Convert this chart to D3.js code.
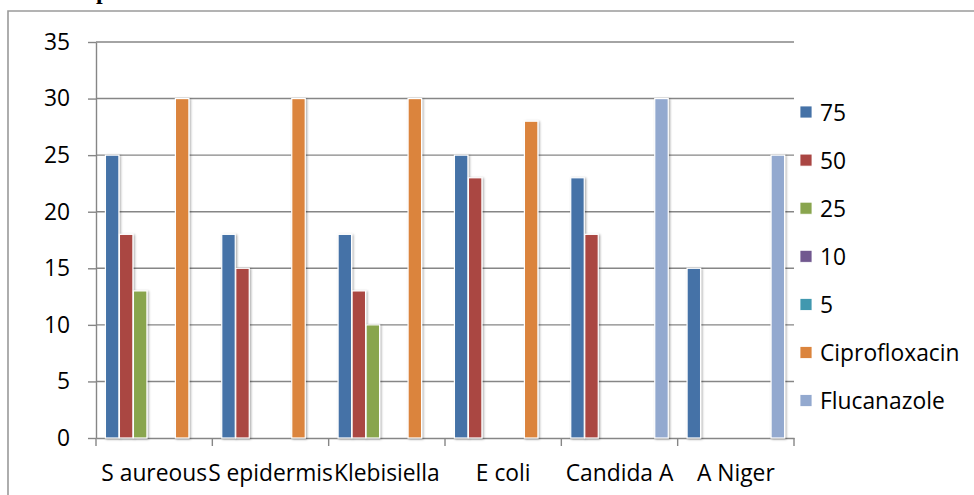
<!DOCTYPE html>
<html>
<head>
<meta charset="utf-8">
<script src="https://cdn.jsdelivr.net/npm/d3@7"></script>
<style>
  html, body { margin: 0; padding: 0; background: #fff; }
  svg { display: block; }
  text { font-family: "Open Sans", Lato, "Liberation Sans", sans-serif; fill: #000; }
</style>
</head>
<body>
<svg id="chart" width="974" height="495"></svg>
<script>
// Zone of inhibition (mm) by organism and concentration / standard drug
const categories = ["S aureous", "S epidermis", "Klebisiella", "E coli", "Candida A", "A Niger"];
const seriesNames = ["75", "50", "25", "10", "5", "Ciprofloxacin", "Flucanazole"];
const values75 = [25, 18, 18, 25, 23, 15];
const values50 = [18, 15, 13, 23, 18, 0];
const values25 = [13, 0, 10, 0, 0, 0];
const values10 = [0, 0, 0, 0, 0, 0];
const values5 = [0, 0, 0, 0, 0, 0];
const valuesCipro = [30, 30, 30, 28, 0, 0];
const valuesFluc = [0, 0, 0, 0, 30, 25];
const yTicks = [0, 5, 10, 15, 20, 25, 30, 35];
const seriesColors = ["#4572A7", "#AA4643", "#89A54E", "#71588F", "#4198AF", "#DB843D", "#93A9CF"];

const seriesValues = [values75, values50, values25, values10, values5, valuesCipro, valuesFluc];

const svg = d3.select("#chart");
const fontSize = 22.8;
const fontFamily = "'Open Sans', Lato, 'Liberation Sans', sans-serif";

// Outer chart frame (left and top edges visible)
svg.append("path")
  .attr("d", "M8,500 L8,11 L980,11")
  .attr("fill", "none")
  .attr("stroke", "#9a9a9a")
  .attr("stroke-width", 1.6);

// Heading above the frame, mostly outside the visible area
svg.append("text")
  .attr("x", 96)
  .attr("y", -1)
  .style("font-family", "'Liberation Serif', serif")
  .style("font-weight", "bold")
  .style("font-size", "24px")
  .text("p");

const plotLeft = 96, plotRight = 794, plotTop = 42, plotBottom = 438;

const y = d3.scaleLinear().domain([0, 35]).range([plotBottom, plotTop]);
const x0 = d3.scaleBand().domain(categories).range([plotLeft, plotRight]).paddingInner(0).paddingOuter(0);
const x1 = d3.scaleBand().domain(seriesNames).range([0, x0.bandwidth()]).paddingInner(0).paddingOuter(0.655);
const color = d3.scaleOrdinal().domain(seriesNames).range(seriesColors);

// Soft shadow used by the bars
const defs = svg.append("defs");
const filt = defs.append("filter").attr("id", "barShadow")
  .attr("x", "-50%").attr("y", "-10%").attr("width", "200%").attr("height", "120%");
filt.append("feDropShadow")
  .attr("dx", 1.2).attr("dy", 0.8).attr("stdDeviation", 1.3)
  .attr("flood-color", "#000").attr("flood-opacity", 0.35);

const axisColor = "#868686";

// Horizontal gridlines
svg.append("g")
  .selectAll("line")
  .data(yTicks.filter(t => t > 0))
  .join("line")
  .attr("x1", plotLeft).attr("x2", plotRight)
  .attr("y1", d => y(d)).attr("y2", d => y(d))
  .attr("stroke", axisColor)
  .attr("stroke-width", 1.4);

// Y axis
const yAxis = svg.append("g")
  .attr("transform", `translate(${plotLeft},0)`)
  .call(d3.axisLeft(y).tickValues(yTicks).tickSize(8).tickSizeOuter(0).tickPadding(18));
yAxis.selectAll("path, line").attr("stroke", axisColor).attr("stroke-width", 1.4);
yAxis.selectAll("text")
  .style("font-size", fontSize + "px")
  .style("font-family", fontFamily)
  .attr("fill", "#000");

// X axis line with category labels
const xAxis = svg.append("g")
  .attr("transform", `translate(0,${plotBottom})`)
  .call(d3.axisBottom(x0).tickSize(0).tickSizeOuter(0));
xAxis.select(".domain").attr("stroke", axisColor).attr("stroke-width", 1.4);
xAxis.selectAll("text")
  .attr("y", 43)
  .attr("dy", 0)
  .style("font-size", fontSize + "px")
  .style("font-family", fontFamily)
  .attr("fill", "#000");

// Tick marks on category boundaries
const boundaries = categories.map(c => x0(c)).concat([plotRight]);
svg.append("g")
  .selectAll("line")
  .data(boundaries)
  .join("line")
  .attr("x1", d => d).attr("x2", d => d)
  .attr("y1", plotBottom).attr("y2", plotBottom + 8)
  .attr("stroke", axisColor)
  .attr("stroke-width", 1.4);

// Bars
const barData = [];
categories.forEach((c, ci) => {
  seriesNames.forEach((s, si) => {
    barData.push({ category: c, series: s, value: seriesValues[si][ci] });
  });
});

svg.append("g")
  .selectAll("rect")
  .data(barData.filter(d => d.value > 0))
  .join("rect")
  .attr("x", d => x0(d.category) + x1(d.series) + 0.25)
  .attr("y", d => y(d.value))
  .attr("width", x1.bandwidth() - 0.5)
  .attr("height", d => y(0) - y(d.value))
  .attr("fill", d => color(d.series))
  .attr("stroke", "#fff")
  .attr("stroke-width", 1.2)
  .attr("filter", "url(#barShadow)");

// Legend
const legend = svg.append("g");
const legendRow = legend.selectAll("g")
  .data(seriesNames)
  .join("g")
  .attr("transform", (d, i) => `translate(800,${106 + i * 48.1})`);
legendRow.append("rect")
  .attr("width", 12).attr("height", 12)
  .attr("fill", d => color(d))
  .attr("stroke", "#fff").attr("stroke-width", 0.8);
legendRow.append("text")
  .attr("x", 20)
  .attr("y", 14.5)
  .style("font-size", fontSize + "px")
  .style("font-family", fontFamily)
  .text(d => d);
</script>
</body>
</html>
